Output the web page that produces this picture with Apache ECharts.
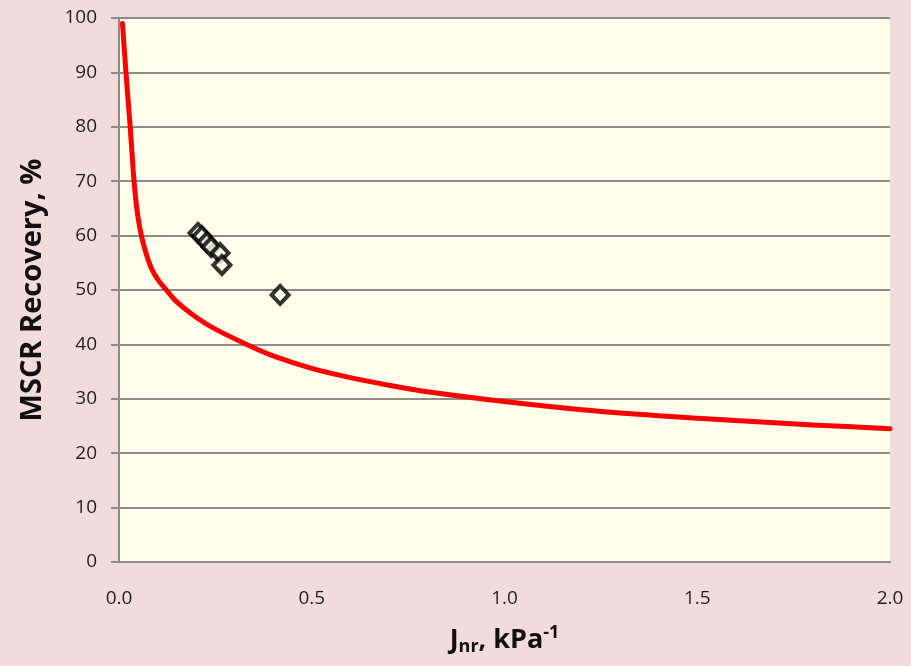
<!DOCTYPE html>
<html>
<head>
<meta charset="utf-8">
<script src="https://cdn.jsdelivr.net/npm/echarts@6/dist/echarts.min.js"></script>
<style>
html,body{margin:0;padding:0;background:#F2DCDB;}
#c{width:911px;height:666px;}
</style>
</head>
<body>
<div id="c"></div>
<script>
// Specification curve (Jnr, Recovery %)
const curveJnr = [0.009, 0.018, 0.029, 0.039, 0.048, 0.058, 0.07, 0.084, 0.1, 0.123, 0.15, 0.2, 0.25, 0.331, 0.4, 0.5, 0.6, 0.7, 0.8, 1.0, 1.2, 1.4, 1.6, 1.8, 2.0];
const curveRec = [99.0, 90.0, 80.0, 70.0, 64.0, 60.0, 56.8, 54.0, 52.0, 50.0, 47.8, 45.0, 42.8, 40.0, 37.9, 35.6, 33.9, 32.5, 31.3, 29.5, 28.0, 26.9, 26.0, 25.2, 24.5];
// Measured points
const pointJnr = [0.205, 0.215, 0.228, 0.239, 0.262, 0.267, 0.418];
const pointRec = [60.5, 59.9, 58.8, 57.9, 56.8, 54.6, 49.1];
// Axis ticks
const xTicks = [0, 0.5, 1.0, 1.5, 2.0];
const yTicks = [0, 10, 20, 30, 40, 50, 60, 70, 80, 90, 100];

const chart = echarts.init(document.getElementById('c'));
const font = 'Open Sans, Liberation Sans, sans-serif';
chart.setOption({
  backgroundColor: '#F2DCDB',
  animation: false,
  grid: {left: 119, right: 21, top: 18, bottom: 104, show: true, backgroundColor: '#FFFFEB', borderWidth: 0,
         outerBoundsMode: 'none', containLabel: false},
  xAxis: {
    type: 'value', min: xTicks[0], max: xTicks[xTicks.length - 1], interval: 0.5,
    axisLine: {show: true, lineStyle: {color: '#8c8c8c', width: 2}},
    axisTick: {show: false},
    splitLine: {show: false},
    axisLabel: {formatter: v => v.toFixed(1), fontSize: 19, color: '#1f1f1f', fontFamily: font, margin: 27},
    name: '{b|J}{sub|nr}{b|, kPa}{sup|-1}',
    nameLocation: 'middle', nameGap: 62,
    nameTextStyle: {
      rich: {
        b: {fontSize: 27, fontWeight: 'bold', color: '#111', fontFamily: font},
        sub: {fontSize: 18, fontWeight: 'bold', color: '#111', fontFamily: font, padding: [14, 0, 0, 0]},
        sup: {fontSize: 18, fontWeight: 'bold', color: '#111', fontFamily: font, padding: [0, 0, 14, 0]}
      }
    }
  },
  yAxis: {
    type: 'value', min: yTicks[0], max: yTicks[yTicks.length - 1], interval: 10,
    axisLine: {show: true, lineStyle: {color: '#8c8c8c', width: 2}},
    axisTick: {show: true, length: 8, lineStyle: {color: '#8c8c8c', width: 2}},
    splitLine: {show: true, lineStyle: {color: '#8c8c8c', width: 2}},
    axisLabel: {fontSize: 19, color: '#1f1f1f', fontFamily: font, margin: 22},
    name: 'MSCR Recovery, %',
    nameLocation: 'middle', nameGap: 72,
    nameTextStyle: {fontSize: 29, fontWeight: 'bold', color: '#111', fontFamily: font}
  },
  series: [
    {
      type: 'line', data: curveJnr.map((x, i) => [x, curveRec[i]]),
      smooth: 0.3, showSymbol: false, symbol: 'none',
      lineStyle: {color: '#FF0000', width: 5, cap: 'round'}, z: 2
    },
    {
      type: 'scatter', data: pointJnr.map((x, i) => [x, pointRec[i]]),
      symbol: 'diamond', symbolSize: [17, 18],
      itemStyle: {color: '#FFFFEB', borderColor: '#000', borderWidth: 4}, z: 3
    }
  ]
});
</script>
</body>
</html>
